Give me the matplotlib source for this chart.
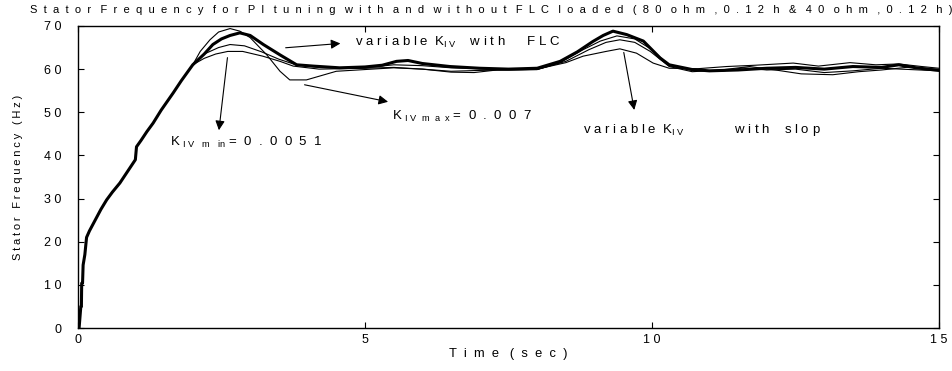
import matplotlib as mpl
import matplotlib.pyplot as plt

mpl.rcParams["font.family"] = ["Liberation Sans", "DejaVu Sans"]
mpl.rcParams["mathtext.fontset"] = "custom"
mpl.rcParams["mathtext.rm"] = "Liberation Sans"
mpl.rcParams["mathtext.it"] = "Liberation Sans"


def spaced(s, n=1, w=2):
    # wide letter spacing, like the old plotting package
    return (" " * w).join((" " * n).join(word) for word in s.split(" "))


# common start-up ramp (sec, Hz)
t_rise = [0, 0.02, 0.05, 0.06, 0.065, 0.08, 0.09, 0.12, 0.15, 0.2, 0.3, 0.4, 0.5,
          0.6, 0.73, 0.85, 1.0, 1.02, 1.1, 1.2, 1.31, 1.45, 1.66, 1.8, 2.0]
f_rise = [0, 0, 5, 5, 10.4, 10.4, 14.6, 17, 21, 22.5, 25, 27.5, 29.7,
          31.5, 33.6, 36, 39, 42, 43.5, 45.5, 47.5, 50.5, 54.5, 57.3, 61]

# variable K_IV with FLC (thick)
t_flc = [2.2, 2.35, 2.5, 2.65, 2.82, 3.0, 3.23, 3.52, 3.81, 4.1, 4.56, 5.0, 5.3,
         5.55, 5.75, 6.0, 6.48, 7.0, 7.5, 8.0, 8.4, 8.7, 8.97, 9.15, 9.32, 9.56,
         9.85, 10.14, 10.3, 10.7, 11.0, 11.5, 12.0, 12.5, 13.0, 13.5, 14.0, 14.3,
         14.6, 15.0]
f_flc = [63.5, 65.7, 67.0, 67.8, 68.4, 67.8, 65.7, 63.3, 61.0, 60.7, 60.3, 60.5, 60.9,
         61.8, 62.0, 61.3, 60.6, 60.2, 60.0, 60.2, 61.8, 64.0, 66.4, 67.8, 68.8, 68.0,
         66.5, 62.6, 61.0, 59.9, 59.6, 59.8, 60.2, 60.4, 60.0, 60.6, 60.4, 61.0,
         60.3, 59.7]

# K_IVmax = 0.007
t_max = [2.13, 2.3, 2.45, 2.65, 2.82, 3.0, 3.29, 3.52, 3.69, 3.98, 4.5, 5.0, 5.5,
         6.0, 6.5, 6.9, 7.3, 8.0, 8.4, 8.8, 9.1, 9.39, 9.7, 10.0, 10.3, 10.7, 11.2,
         11.6, 12.0, 12.5, 13.0, 13.5, 14.0, 14.5, 15.0]
f_max = [64.1, 66.8, 68.6, 69.4, 68.8, 67.3, 63.3, 59.5, 57.5, 57.5, 59.5, 59.9, 60.3,
         60.0, 59.3, 59.2, 59.8, 59.9, 61.5, 64.5, 66.5, 67.7, 67.0, 64.5, 60.8, 59.7, 59.5,
         60.3, 59.8, 60.0, 59.2, 59.6, 60.2, 59.9, 59.6]

# K_IVmin = 0.0051
t_min = [2.2, 2.4, 2.61, 2.87, 3.22, 3.52, 3.75, 4.2, 5.0, 5.5, 6.0, 6.5, 7.0, 8.0,
         8.5, 8.9, 9.2, 9.44, 9.7, 9.97, 10.3, 10.7, 11.2, 11.7, 12.2, 12.6, 13.15,
         13.6, 14.0, 14.5, 15.0]
f_min = [62.5, 63.5, 64.1, 64.1, 63.0, 61.8, 60.7, 60.0, 60.2, 60.4, 60.0, 59.5, 59.7, 59.9,
         61.8, 64.5, 66.2, 66.8, 66.2, 64.1, 60.6, 59.4, 59.8, 60.6, 59.7, 58.9, 58.7,
         59.4, 59.8, 60.5, 59.9]

# variable K_IV with slope
t_slop = [2.2, 2.45, 2.65, 2.9, 3.2, 3.5, 3.8, 4.2, 5.0, 5.5, 6.0, 6.5, 7.0, 8.0,
          8.5, 8.8, 9.2, 9.44, 9.73, 10.02, 10.3, 10.8, 11.3, 11.8, 12.46, 12.9,
          13.45, 13.9, 14.3, 14.7, 15.0]
f_slop = [63.5, 65.0, 65.7, 65.4, 64.0, 62.3, 61.0, 60.4, 60.3, 61.0, 60.8, 60.3, 60.1, 60.0,
          61.5, 63.0, 64.1, 64.7, 63.7, 61.4, 60.2, 60.1, 60.6, 60.9, 61.4, 60.7,
          61.5, 61.0, 61.2, 60.6, 60.2]

fig = plt.figure(figsize=(9.53, 3.71), dpi=100)
ax = fig.add_axes([0.0818, 0.1159, 0.9035, 0.8141])

for t, f in [(t_max, f_max), (t_min, f_min), (t_slop, f_slop)]:
    ax.plot(t_rise + t, f_rise + f, color="black", lw=0.8)
ax.plot(t_rise + t_flc, f_rise + f_flc, color="black", lw=2.2)

ax.set_xlim(0, 15)
ax.set_ylim(0, 70)
ax.set_xticks([0, 5, 10, 15])
ax.set_xticklabels([" ".join(str(v)) for v in [0, 5, 10, 15]])
ax.set_yticks(range(0, 71, 10))
ax.set_yticklabels([" ".join(str(v)) for v in range(0, 71, 10)])
ax.tick_params(direction="in", length=4, width=0.8, labelsize=9,
               top=True, right=True)
ax.tick_params(axis="y", pad=12)
ax.tick_params(axis="x", pad=4)
for sp in ax.spines.values():
    sp.set_linewidth(1.0)

ax.set_xlabel(spaced("Time (sec)", 2, 3), fontsize=9.3, labelpad=2)
ax.set_ylabel("\u2005".join("Stator Frequency (Hz)"), fontsize=8, labelpad=15)
fig.text(0.515, 0.972, spaced("Stator Frequency for PI tuning with and without FLC "
                              "loaded (80 ohm ,0.12 h & 40 ohm ,0.12 h)", 2, 3),
         ha="center", va="center", fontsize=8)

arr = dict(arrowstyle="-|>", color="black", lw=0.8, mutation_scale=14)
ax.annotate("", xy=(4.62, 66.0), xytext=(3.57, 64.9), arrowprops=arr)
ax.text(4.82, 66.2, spaced("variable K") + r"$_{\rm I\ V}$" + "    "
        + spaced("with  FLC", 1, 3), fontsize=9.5, va="center")

ax.annotate("", xy=(2.45, 45.2), xytext=(2.61, 63.3), arrowprops=arr)
ax.text(1.6, 43.0, "K " + r"$_{\rm I\ V\ \ \ m\ \ \ in}$" + " " + spaced("= 0 . 0 0 5 1"),
        fontsize=9.5, va="center")

ax.annotate("", xy=(5.45, 52.3), xytext=(3.9, 56.5), arrowprops=arr)
ax.text(5.47, 49.0, "K " + r"$_{\rm I\ V\ \ m\ \ a\ \ x}$" + " " + spaced("= 0 . 0 0 7"),
        fontsize=9.5, va="center")

ax.annotate("", xy=(9.7, 49.9), xytext=(9.5, 64.5), arrowprops=arr)
ax.text(8.8, 46.0, spaced("variable K") + r"$_{\rm I\ V}$" + "              "
        + spaced("with slop", 1, 4), fontsize=9.5, va="center")

fig.savefig("out.png", dpi=100)
